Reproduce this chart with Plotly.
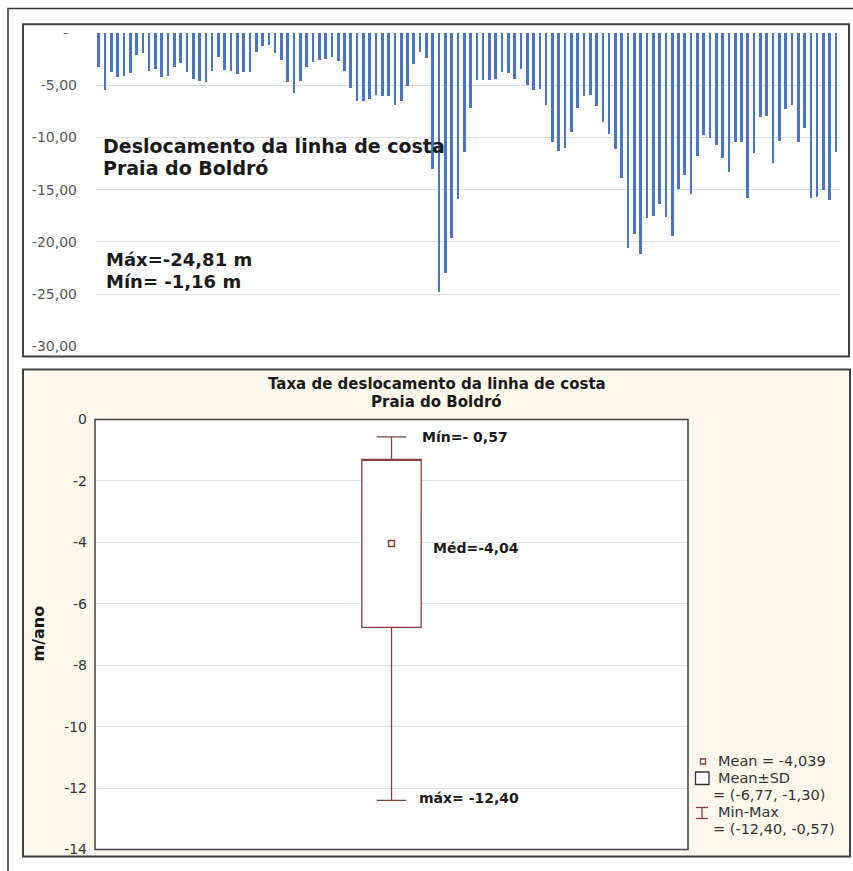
import plotly.graph_objects as go

# ---------------- data ----------------
# Shoreline displacement (m) per transect, Praia do Boldró
displacement = [
    -3.30, -5.47, -3.75, -4.20, -4.10, -3.85, -2.10, -1.87, -3.60, -3.40,
    -4.20, -4.07, -3.28, -2.90, -3.72, -4.42, -4.55, -4.65, -3.60, -2.32,
    -3.53, -3.63, -3.91, -3.75, -3.75, -1.84, -1.20, -1.16, -1.87, -2.60,
    -4.66, -5.79, -4.55, -3.27, -2.82, -2.63, -2.47, -2.30, -2.70, -3.60,
    -5.22, -6.50, -6.48, -6.28, -5.94, -6.04, -6.07, -6.89, -6.50, -5.05,
    -2.92, -1.85, -2.44, -12.98, -24.81, -23.00, -19.65, -15.92, -11.38, -7.20,
    -4.54, -4.47, -4.54, -4.38, -3.72, -3.87, -4.40, -3.49, -5.02, -5.47,
    -5.33, -6.86, -10.47, -11.28, -11.02, -9.51, -7.20, -6.04, -5.93, -6.98,
    -8.52, -9.63, -11.14, -13.92, -20.55, -19.27, -21.17, -17.70, -17.55, -16.38,
    -17.60, -19.48, -14.98, -13.58, -15.45, -11.73, -9.78, -10.01, -10.68, -11.98,
    -13.30, -10.47, -10.47, -15.78, -11.47, -8.02, -7.91, -12.40, -10.32, -7.30,
    -6.89, -10.45, -9.05, -15.78, -15.68, -15.01, -16.01, -11.38,
]
transects = list(range(1, len(displacement) + 1))

top_tickvals = [0, -5, -10, -15, -20, -25, -30]
top_ticktext = ["-\u00a0\u00a0", "-5,00", "-10,00", "-15,00", "-20,00", "-25,00", "-30,00"]

# Rate of shoreline displacement (m/ano) summary statistics
rate_mean = -4.039
rate_sd_low = -6.77
rate_sd_high = -1.30
rate_min = -12.40
rate_max = -0.57

box_tickvals = [0, -2, -4, -6, -8, -10, -12, -14]
box_ticktext = ["0", "-2", "-4", "-6", "-8", "-10", "-12", "-14"]

# ---------------- helpers ----------------
W, H = 853, 871
# the photographed page shows a small vertical offset/scale; compensate for it
V_OFF, V_SCALE = 7.7, 0.9814


def px(x):
    return x / W


def py(y):
    return 1 - ((y - V_OFF) / V_SCALE) / H


BLUE = "#4a75c5"
RED = "#8c3b3b"
FRAME = "#404040"
FONT = "DejaVu Sans"

fig = go.Figure()

fig.add_trace(go.Bar(
    x=transects, y=displacement, width=0.42,
    marker=dict(color=BLUE, line=dict(width=0)),
    xaxis="x", yaxis="y", showlegend=False, hoverinfo="y",
))

fig.add_trace(go.Box(
    x=[0], q1=[rate_sd_low], median=[rate_sd_high], q3=[rate_sd_high],
    lowerfence=[rate_min], upperfence=[rate_max],
    width=0.2, whiskerwidth=0.5, boxpoints=False,
    line=dict(color=RED, width=1.3), fillcolor="white",
    xaxis="x2", yaxis="y2", showlegend=False,
))

fig.add_trace(go.Scatter(
    x=[0], y=[rate_mean], mode="markers",
    marker=dict(symbol="square-open", size=6, color=RED, line=dict(width=1.5, color=RED)),
    xaxis="x2", yaxis="y2", showlegend=False,
))

shapes = [
    # outer frame
    dict(type="rect", xref="paper", yref="paper", x0=px(8), x1=px(900), y0=min(py(5), 0.9995), y1=py(950),
         line=dict(color="#333333", width=1.5), fillcolor="white", layer="below"),
    # top panel
    dict(type="rect", xref="paper", yref="paper", x0=px(23), x1=px(849), y0=py(24), y1=py(356),
         line=dict(color=FRAME, width=2), fillcolor="white", layer="below"),
    # bottom panel
    dict(type="rect", xref="paper", yref="paper", x0=px(23), x1=px(850), y0=py(369), y1=py(856),
         line=dict(color=FRAME, width=2), fillcolor="#fdf8ec", layer="below"),
    # bottom plot area fill
    dict(type="rect", xref="paper", yref="paper", x0=px(95), x1=px(688), y0=py(419), y1=py(849),
         line=dict(width=0), fillcolor="white", layer="below"),
    # bottom plot area border
    dict(type="rect", xref="paper", yref="paper", x0=px(95), x1=px(688), y0=py(419), y1=py(849),
         line=dict(color=FRAME, width=1.5), fillcolor="rgba(0,0,0,0)", layer="above"),
    # legend symbols
    dict(type="rect", xref="paper", yref="paper", x0=px(700.5), x1=px(705.5), y0=py(758.5), y1=py(763.5),
         line=dict(color=RED, width=1.3), fillcolor="white", layer="above"),
    dict(type="rect", xref="paper", yref="paper", x0=px(695.5), x1=px(709), y0=py(771.5), y1=py(784),
         line=dict(color="#333333", width=1.3), fillcolor="white", layer="above"),
    dict(type="line", xref="paper", yref="paper", x0=px(702), x1=px(702), y0=py(807), y1=py(818),
         line=dict(color=RED, width=1.3), layer="above"),
    dict(type="line", xref="paper", yref="paper", x0=px(696), x1=px(708), y0=py(807), y1=py(807),
         line=dict(color=RED, width=1.3), layer="above"),
    dict(type="line", xref="paper", yref="paper", x0=px(696), x1=px(708), y0=py(818), y1=py(818),
         line=dict(color=RED, width=1.3), layer="above"),
]

ann = []


def text(x, y, s, size, bold=False, xanchor="left", color="#1a1a1a", yref="paper", textangle=0):
    ann.append(dict(
        x=px(x), y=(py(y) if yref == "paper" else y), xref="paper", yref=yref,
        text=(f"<b>{s}</b>" if bold else s), showarrow=False,
        xanchor=xanchor, yanchor="middle", textangle=textangle,
        font=dict(family=FONT, size=size, color=color),
    ))


# top panel texts
text(101, 146, "Deslocamento da linha de costa", 19, bold=True)
text(101, 168, "Praia do Boldró", 19, bold=True)
text(104, 259, "Máx=-24,81 m", 18, bold=True)
text(104, 281, "Mín= -1,16 m", 18, bold=True)

# bottom panel texts
text(437, 384, "Taxa de deslocamento da linha de costa", 15, bold=True, xanchor="center")
text(436, 402, "Praia do Boldró", 15, bold=True, xanchor="center")
text(38, 633, "m/ano", 16, bold=True, xanchor="center", textangle=-90)
text(420, rate_max, "Mín=- 0,57", 14, bold=True, yref="y2")
text(431, -4.17, "Méd=-4,04", 14, bold=True, yref="y2")
text(417, -12.33, "máx= -12,40", 14, bold=True, yref="y2")

# legend texts
LEG = "#333333"
text(716, 761, "Mean = -4,039", 14.5, color=LEG)
text(716, 778, "Mean±SD", 14.5, color=LEG)
text(711, 795, "= (-6,77, -1,30)", 14.5, color=LEG)
text(716, 812, "Min-Max", 14.5, color=LEG)
text(711, 829, "= (-12,40, -0,57)", 14.5, color=LEG)

fig.update_layout(
    width=W, height=H, margin=dict(l=0, r=0, t=0, b=0),
    paper_bgcolor="white", plot_bgcolor="rgba(0,0,0,0)",
    showlegend=False, bargap=0,
    shapes=shapes, annotations=ann,
    xaxis=dict(domain=[px(96), px(840)], range=[0.57, 118.63], visible=False, fixedrange=True),
    yaxis=dict(domain=[py(346), py(32.7)], range=[-30, 0], tickvals=top_tickvals, ticktext=top_ticktext,
               showgrid=True, gridcolor="#dcdcdc", gridwidth=1, zeroline=False, showline=False,
               ticks="", ticklabelstandoff=18,
               tickfont=dict(family=FONT, size=14, color="#595959")),
    xaxis2=dict(domain=[px(95), px(688)], range=[-1, 1], visible=False, fixedrange=True, anchor="y2"),
    yaxis2=dict(domain=[py(849), py(419)], range=[-14, 0], tickvals=box_tickvals, ticktext=box_ticktext,
                showgrid=True, gridcolor="#e3e3e3", gridwidth=1, zeroline=False, showline=False,
                ticks="", ticklabelstandoff=7, anchor="x2",
                tickfont=dict(family=FONT, size=14, color="#333333")),
)

fig.write_html(
    "out.html",
    config={"displayModeBar": False},
    post_script=(
        "var s='margin:0;padding:0;overflow:hidden;width:853px;height:871px;';"
        "document.documentElement.style.cssText=s;document.body.style.cssText=s;"
        "var d=document.getElementById('{plot_id}');"
        "d.style.position='fixed';d.style.top='0';d.style.left='0';"
    ),
)
